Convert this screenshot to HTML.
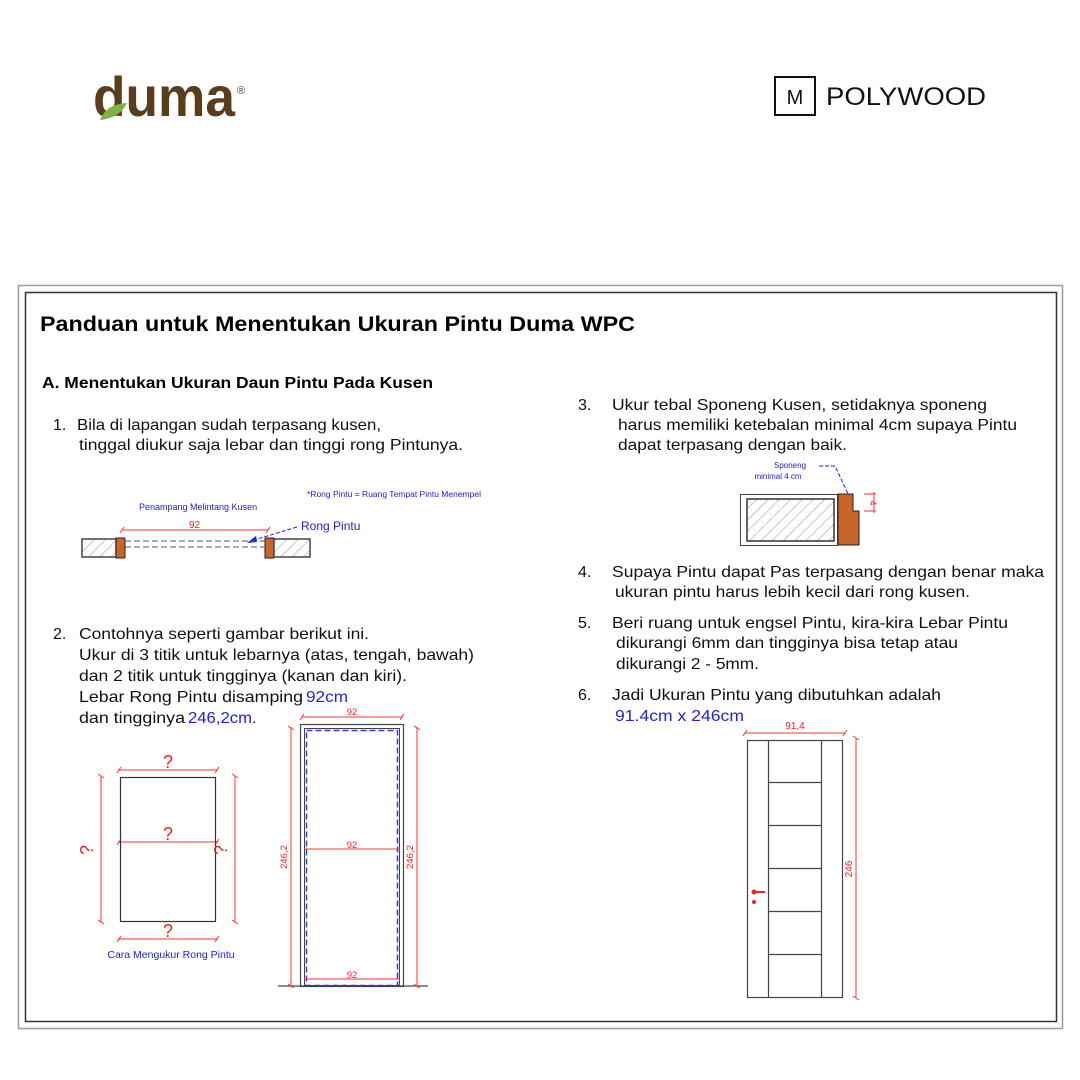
<!DOCTYPE html>
<html><head><meta charset="utf-8"><style>
html,body{margin:0;padding:0;background:#fff;}
svg{display:block;font-family:"Liberation Sans",Arial,sans-serif;}
</style></head><body>
<svg width="1080" height="1080" viewBox="0 0 1080 1080" xmlns="http://www.w3.org/2000/svg">
<defs>
<pattern id="h" width="8" height="8" patternUnits="userSpaceOnUse" patternTransform="rotate(45)">
<line x1="0" y1="0" x2="0" y2="8" stroke="#777" stroke-width="0.8"/>
</pattern>
</defs>
<rect width="1080" height="1080" fill="#fff"/>
<text x="93" y="116" font-size="56" font-weight="bold" fill="#5a3d1c" textLength="142" lengthAdjust="spacingAndGlyphs">duma</text>
<path d="M100,120 Q106,104 127,103 Q120,118 100,120 Z" fill="#7cb342"/>
<text x="237" y="94" font-size="11" fill="#5a3d1c">®</text>
<rect x="775" y="77" width="40" height="38" fill="none" stroke="#111" stroke-width="2"/>
<text x="795" y="104" font-size="20" fill="#111" text-anchor="middle">M</text>
<text x="826" y="105" font-size="25" fill="#111" textLength="160" lengthAdjust="spacingAndGlyphs">POLYWOOD</text>
<rect x="18.5" y="285.5" width="1044" height="743" fill="none" stroke="#999" stroke-width="1.5"/>
<rect x="25.5" y="292.5" width="1031" height="729" fill="none" stroke="#333" stroke-width="1.5"/>
<text x="40" y="331" font-size="21" font-weight="bold" textLength="595" lengthAdjust="spacingAndGlyphs">Panduan untuk Menentukan Ukuran Pintu Duma WPC</text>
<text x="42" y="388" font-size="16" font-weight="bold" textLength="391" lengthAdjust="spacingAndGlyphs">A. Menentukan Ukuran Daun Pintu Pada Kusen</text>
<g font-size="16" fill="#111">
<text x="53" y="430">1.</text>
<text x="77" y="430" textLength="304" lengthAdjust="spacingAndGlyphs">Bila di lapangan sudah terpasang kusen,</text>
<text x="79" y="450" textLength="384" lengthAdjust="spacingAndGlyphs">tinggal diukur saja lebar dan tinggi rong Pintunya.</text>
<text x="53" y="639">2.</text>
<text x="79" y="639" textLength="290" lengthAdjust="spacingAndGlyphs">Contohnya seperti gambar berikut ini.</text>
<text x="79" y="660" textLength="395" lengthAdjust="spacingAndGlyphs">Ukur di 3 titik untuk lebarnya (atas, tengah, bawah)</text>
<text x="79" y="681" textLength="328" lengthAdjust="spacingAndGlyphs">dan 2 titik untuk tingginya (kanan dan kiri).</text>
<text x="79" y="702" textLength="224" lengthAdjust="spacingAndGlyphs">Lebar Rong Pintu disamping</text>
<text x="306" y="702" fill="#2020e0" textLength="42" lengthAdjust="spacingAndGlyphs">92cm</text>
<text x="79" y="723" textLength="106" lengthAdjust="spacingAndGlyphs">dan tingginya</text>
<text x="188" y="723" fill="#2020e0" textLength="64" lengthAdjust="spacingAndGlyphs">246,2cm</text>
<text x="252" y="723">.</text>
<text x="578" y="410">3.</text>
<text x="612" y="410" textLength="375" lengthAdjust="spacingAndGlyphs">Ukur tebal Sponeng Kusen, setidaknya sponeng</text>
<text x="618" y="430" textLength="399" lengthAdjust="spacingAndGlyphs">harus memiliki ketebalan minimal 4cm supaya Pintu</text>
<text x="618" y="450" textLength="229" lengthAdjust="spacingAndGlyphs">dapat terpasang dengan baik.</text>
<text x="578" y="577">4.</text>
<text x="612" y="577" textLength="432" lengthAdjust="spacingAndGlyphs">Supaya Pintu dapat Pas terpasang dengan benar maka</text>
<text x="615" y="597" textLength="355" lengthAdjust="spacingAndGlyphs">ukuran pintu harus lebih kecil dari rong kusen.</text>
<text x="578" y="628">5.</text>
<text x="612" y="628" textLength="396" lengthAdjust="spacingAndGlyphs">Beri ruang untuk engsel Pintu, kira-kira Lebar Pintu</text>
<text x="616" y="648" textLength="342" lengthAdjust="spacingAndGlyphs">dikurangi 6mm dan tingginya bisa tetap atau</text>
<text x="616" y="669" textLength="143" lengthAdjust="spacingAndGlyphs">dikurangi 2 - 5mm.</text>
<text x="578" y="700">6.</text>
<text x="612" y="700" textLength="329" lengthAdjust="spacingAndGlyphs">Jadi Ukuran Pintu yang dibutuhkan adalah</text>
<text x="615" y="721" fill="#2020e0" textLength="129" lengthAdjust="spacingAndGlyphs">91.4cm x 246cm</text>
</g>
<text x="307" y="497" font-size="8.5" fill="#2020e0">*Rong Pintu = Ruang Tempat Pintu Menempel</text>
<text x="139" y="510" font-size="9" fill="#2020e0">Penampang Melintang Kusen</text>
<line x1="122" y1="530" x2="268" y2="530" stroke="#f33" stroke-width="1"/>
<path d="M120,533 L124,527 M266,533 L270,527" stroke="#f33"/>
<text x="189" y="528" font-size="10" fill="#e22">92</text>
<text x="301" y="530" font-size="12" fill="#2020e0">Rong Pintu</text>
<line x1="297" y1="527" x2="254" y2="540" stroke="#2020e0" stroke-dasharray="4,2"/>
<path d="M247,543 L256,536 L257,542 Z" fill="#2020e0"/>
<rect x="82" y="539" width="34" height="18" fill="url(#h)" stroke="#444" stroke-width="1.5"/>
<rect x="116" y="538" width="9" height="20" fill="#c8662a" stroke="#222"/>
<rect x="265" y="538" width="9" height="20" fill="#c8662a" stroke="#222"/>
<rect x="274" y="539" width="36" height="18" fill="url(#h)" stroke="#444" stroke-width="1.5"/>
<line x1="125" y1="541" x2="265" y2="541" stroke="#555" stroke-dasharray="6,3"/>
<line x1="125" y1="547" x2="265" y2="547" stroke="#555" stroke-dasharray="6,3"/>
<text x="790" y="468" font-size="8" fill="#2020e0" text-anchor="middle">Sponeng</text>
<text x="778" y="479" font-size="8" fill="#2020e0" text-anchor="middle">minimal 4 cm</text>
<path d="M819,466 L835,466 L850,498" fill="none" stroke="#2020e0" stroke-dasharray="4,2"/>
<path d="M853,505 L846,496 L852,494 Z" fill="#2020e0"/>
<rect x="740.5" y="494.5" width="97" height="51" fill="#fff" stroke="#444"/>
<rect x="747" y="499" width="87" height="42" fill="url(#h)" stroke="#333" stroke-width="1.5"/>
<path d="M838,494 L853,494 L853,511 L859,511 L859,545 L838,545 Z" fill="#c8662a" stroke="#222"/>
<line x1="864" y1="494" x2="876" y2="494" stroke="#f33"/>
<line x1="864" y1="511" x2="876" y2="511" stroke="#f33"/>
<line x1="874" y1="492" x2="874" y2="513" stroke="#f33"/>
<text x="870" y="503" font-size="9" fill="#e22" transform="rotate(90 870 503)" text-anchor="middle">4</text>
<g stroke="#f33" stroke-width="1" fill="none">
<line x1="118" y1="770" x2="218" y2="770"/><line x1="118" y1="842" x2="218" y2="842"/>
<line x1="118" y1="939" x2="218" y2="939"/>
<line x1="101" y1="776" x2="101" y2="922"/><line x1="235" y1="776" x2="235" y2="922"/>
<path d="M117,773 L121,767 M215,773 L219,767 M117,845 L121,839 M215,845 L219,839 M117,942 L121,936 M215,942 L219,936"/>
<path d="M98,774 L104,778 M98,920 L104,924 M232,774 L238,778 M232,920 L238,924"/>
</g>
<rect x="120.5" y="777.5" width="95" height="144" fill="none" stroke="#333" stroke-width="1.2"/>
<g font-size="18" fill="#e22" text-anchor="middle">
<text x="168" y="768">?</text><text x="168" y="840">?</text><text x="168" y="937">?</text>
<text x="93" y="850" transform="rotate(-90 93 850)">?</text>
<text x="227" y="850" transform="rotate(-90 227 850)">?</text>
</g>
<text x="171" y="958" font-size="10.5" fill="#2020e0" text-anchor="middle">Cara Mengukur Rong Pintu</text>
<rect x="300.5" y="724.5" width="103" height="262" fill="none" stroke="#444" stroke-width="1.2"/>
<rect x="304.5" y="728.5" width="95" height="257" fill="none" stroke="#444"/>
<rect x="306.5" y="730.5" width="91" height="255" fill="none" stroke="#2a3ee0" stroke-width="1.5" stroke-dasharray="6,3"/>
<line x1="278" y1="986" x2="428" y2="986" stroke="#444" stroke-width="1.2"/>
<g stroke="#f33" fill="none">
<line x1="302" y1="717" x2="402" y2="717"/>
<line x1="304" y1="849" x2="400" y2="849"/>
<line x1="304" y1="979" x2="400" y2="979"/>
<line x1="291" y1="727" x2="291" y2="987"/>
<line x1="417" y1="727" x2="417" y2="987"/>
<path d="M300,720 L304,714 M400,720 L404,714 M288,726 L294,730 M414,726 L420,730 M288,984 L294,988 M414,984 L420,988"/>
</g>
<g font-size="9.5" fill="#e22" text-anchor="middle">
<text x="352" y="715">92</text><text x="352" y="848">92</text><text x="352" y="978">92</text>
<text x="287" y="857" transform="rotate(-90 287 857)">246,2</text>
<text x="413" y="857" transform="rotate(-90 413 857)">246,2</text>
</g>
<rect x="747.5" y="740.5" width="95" height="257" fill="none" stroke="#444" stroke-width="1.2"/>
<g stroke="#444" stroke-width="1.2">
<line x1="768.5" y1="740" x2="768.5" y2="998"/>
<line x1="821.5" y1="740" x2="821.5" y2="998"/>
<line x1="768" y1="782.5" x2="822" y2="782.5"/>
<line x1="768" y1="825.5" x2="822" y2="825.5"/>
<line x1="768" y1="868.5" x2="822" y2="868.5"/>
<line x1="768" y1="911.5" x2="822" y2="911.5"/>
<line x1="768" y1="954.5" x2="822" y2="954.5"/>
</g>
<line x1="754" y1="892" x2="765" y2="892" stroke="#e22" stroke-width="2"/>
<circle cx="754" cy="892" r="2.5" fill="#e22"/>
<circle cx="754" cy="902" r="2" fill="#e22"/>
<line x1="745" y1="733" x2="845" y2="733" stroke="#f33"/>
<path d="M743,736 L747,730 M843,736 L847,730 M853,736 L859,740 M853,996 L859,1000" stroke="#f33"/>
<text x="795" y="729" font-size="10" fill="#e22" text-anchor="middle">91,4</text>
<line x1="856" y1="738" x2="856" y2="998" stroke="#f33"/>
<text x="852" y="869" font-size="10" fill="#e22" text-anchor="middle" transform="rotate(-90 852 869)">246</text>
</svg>
</body></html>
